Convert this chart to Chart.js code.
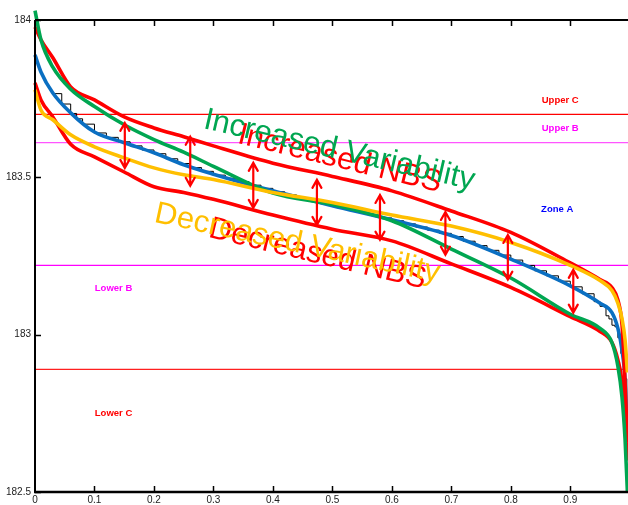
<!DOCTYPE html>
<html>
<head>
<meta charset="utf-8">
<script src="https://cdn.jsdelivr.net/npm/chart.js@4.4.1/dist/chart.umd.min.js"></script>
<style>
  html, body { margin: 0; padding: 0; background: #fff; }
</style>
</head>
<body>
<canvas id="zoneChart" width="628" height="505"></canvas>
<script>
// shared x positions for the smooth curves
const xs = [0, 0.01, 0.03, 0.06, 0.1, 0.15, 0.2, 0.25, 0.3, 0.4, 0.5, 0.6, 0.7, 0.8, 0.9, 0.95, 0.97, 0.98, 0.987, 0.992, 0.996];

const meanCurve    = [183.889, 183.835, 183.768, 183.705, 183.644, 183.61, 183.578, 183.54, 183.51, 183.457, 183.41, 183.365, 183.315, 183.24, 183.155, 183.10, 183.07, 183.02, 182.95, 182.857, 182.66];
const incVarCurve  = [184.03, 183.937, 183.85, 183.78, 183.725, 183.667, 183.62, 183.58, 183.535, 183.45, 183.414, 183.362, 183.272, 183.18, 183.065, 183.02, 182.975, 182.9, 182.8, 182.67, 182.5];
const decVarCurve  = [183.778, 183.714, 183.683, 183.635, 183.597, 183.562, 183.53, 183.508, 183.493, 183.452, 183.42, 183.38, 183.345, 183.293, 183.22, 183.172, 183.14, 183.1, 183.05, 182.984, 182.88];
const incNbsCurve  = [183.978, 183.937, 183.88, 183.787, 183.746, 183.692, 183.657, 183.629, 183.6, 183.545, 183.503, 183.457, 183.393, 183.325, 183.228, 183.175, 183.15, 183.11, 183.03, 182.85, 182.66];
const decNbsCurve  = [183.8, 183.746, 183.692, 183.605, 183.565, 183.517, 183.47, 183.452, 183.43, 183.38, 183.335, 183.298, 183.225, 183.15, 183.057, 183.01, 182.975, 182.92, 182.848, 182.71, 182.6];

// observed (stepped) record
const obsX = [0.03, 0.045, 0.06, 0.07, 0.08, 0.10, 0.12, 0.14, 0.16, 0.18, 0.20, 0.22, 0.24, 0.26, 0.28, 0.30, 0.32, 0.34, 0.36, 0.38, 0.40, 0.42, 0.44, 0.46, 0.48, 0.50, 0.52, 0.54, 0.56, 0.58, 0.60, 0.62, 0.64, 0.66, 0.68, 0.70, 0.72, 0.74, 0.76, 0.78, 0.80, 0.82, 0.84, 0.86, 0.88, 0.90, 0.92, 0.94, 0.95, 0.96, 0.965, 0.97, 0.975, 0.98, 0.985, 0.99, 0.995];
const obsY = [183.766, 183.733, 183.703, 183.686, 183.669, 183.641, 183.627, 183.613, 183.6, 183.587, 183.575, 183.559, 183.544, 183.531, 183.519, 183.507, 183.497, 183.486, 183.475, 183.465, 183.454, 183.444, 183.435, 183.425, 183.416, 183.407, 183.398, 183.389, 183.38, 183.371, 183.362, 183.352, 183.342, 183.332, 183.322, 183.312, 183.297, 183.283, 183.268, 183.253, 183.237, 183.22, 183.203, 183.187, 183.17, 183.152, 183.13, 183.105, 183.09, 183.06, 183.05, 183.03, 183.025, 182.99, 182.94, 182.86, 182.7];

// zone limits
const limitNames  = ['Upper C', 'Upper B', 'Lower B', 'Lower C'];
const limitValues = [183.7, 183.61, 183.22, 182.89];

// double arrows between the two NBS curves
const arrowX      = [0.151, 0.261, 0.367, 0.474, 0.58, 0.69, 0.795, 0.905];
const arrowTop    = [183.673, 183.629, 183.546, 183.492, 183.444, 183.39, 183.317, 183.206];
const arrowBottom = [183.53, 183.473, 183.403, 183.349, 183.302, 183.254, 183.175, 183.07];

const xTicks = [0, 0.1, 0.2, 0.3, 0.4, 0.5, 0.6, 0.7, 0.8, 0.9];
const yTicks = [182.5, 183, 183.5, 184];

const X_MAX = 0.997;

// text annotations (positions in data units)
const zoneLabels = [
  { text: 'Upper C', x: 0.883, y: 183.746, color: '#ff0000' },
  { text: 'Upper B', x: 0.883, y: 183.657, color: '#ff00ff' },
  { text: 'Zone A',  x: 0.878, y: 183.397, color: '#0000ff' },
  { text: 'Lower B', x: 0.132, y: 183.146, color: '#ff00ff' },
  { text: 'Lower C', x: 0.132, y: 182.749, color: '#ff0000' }
];
const curveNotes = [
  { text: 'Increased NBS',         x: 0.3387, y: 183.610, angle: 13.7, color: '#ff0000' },
  { text: 'Increased Variability', x: 0.2815, y: 183.657, angle: 12.9, color: '#00a651' },
  { text: 'Decreased NBS',         x: 0.29,   y: 183.311, angle: 13.5, color: '#ff0000' },
  { text: 'Decreased Variability', x: 0.199,  y: 183.359, angle: 12.0, color: '#ffbf00' }
];

const pts = (xv, yv) => xv.map((x, i) => ({ x: x, y: yv[i] }));

const curve = (label, ys, color, order) => ({
  label: label,
  data: pts(xs, ys),
  borderColor: color,
  borderWidth: 3.6,
  cubicInterpolationMode: 'monotone',
  pointRadius: 0,
  clip: false,
  order: order
});

const limitColors = ['#ff0000', '#ff55ff', '#ff00ff', '#ff2020'];
const limitSets = limitValues.map((v, i) => ({
  label: limitNames[i],
  data: [{ x: 0, y: v }, { x: X_MAX, y: v }],
  borderColor: limitColors[i],
  borderWidth: 1.2,
  pointRadius: 0,
  order: 10
}));

const decor = {
  id: 'decor',
  afterDatasetsDraw(chart) {
    const ctx = chart.ctx;
    const xs_ = chart.scales.x, ys_ = chart.scales.y;
    const area = chart.chartArea;

    // rotated curve notes
    ctx.save();
    ctx.font = '31px "Liberation Sans", Arial, sans-serif';
    ctx.textBaseline = 'alphabetic';
    ctx.textAlign = 'left';
    curveNotes.forEach(n => {
      ctx.save();
      ctx.translate(xs_.getPixelForValue(n.x), ys_.getPixelForValue(n.y));
      ctx.rotate(n.angle * Math.PI / 180);
      ctx.fillStyle = n.color;
      ctx.fillText(n.text, 0, 0);
      ctx.restore();
    });
    ctx.restore();

    // double arrows
    ctx.save();
    ctx.strokeStyle = '#ff0000';
    ctx.lineWidth = 2.2;
    ctx.lineCap = 'round';
    arrowX.forEach((ax, i) => {
      const px = xs_.getPixelForValue(ax);
      const t = ys_.getPixelForValue(arrowTop[i]);
      const b = ys_.getPixelForValue(arrowBottom[i]);
      ctx.beginPath();
      ctx.moveTo(px, t); ctx.lineTo(px, b);
      ctx.moveTo(px - 4.5, t + 8); ctx.lineTo(px, t); ctx.lineTo(px + 4.5, t + 8);
      ctx.moveTo(px - 4.5, b - 8); ctx.lineTo(px, b); ctx.lineTo(px + 4.5, b - 8);
      ctx.stroke();
    });
    ctx.restore();

    // zone labels
    ctx.save();
    ctx.font = 'bold 9.5px "Liberation Sans", Arial, sans-serif';
    ctx.textAlign = 'center';
    ctx.textBaseline = 'middle';
    zoneLabels.forEach(l => {
      ctx.fillStyle = l.color;
      ctx.fillText(l.text, xs_.getPixelForValue(l.x), ys_.getPixelForValue(l.y));
    });
    ctx.restore();

    // frame: left, bottom and top axis lines with inward ticks
    ctx.save();
    ctx.strokeStyle = '#000';
    ctx.lineWidth = 2;
    ctx.beginPath();
    ctx.moveTo(area.left, area.top); ctx.lineTo(area.left, area.bottom);
    ctx.moveTo(area.left, area.top); ctx.lineTo(area.right, area.top);
    ctx.stroke();
    ctx.lineWidth = 2.5;
    ctx.beginPath();
    ctx.moveTo(area.left - 1, area.bottom); ctx.lineTo(area.right, area.bottom);
    ctx.stroke();
    ctx.lineWidth = 1.5;
    ctx.beginPath();
    xTicks.forEach(v => {
      if (v === 0) return;
      const px = Math.round(xs_.getPixelForValue(v)) + 0.5;
      ctx.moveTo(px, area.bottom); ctx.lineTo(px, area.bottom - 6);
      ctx.moveTo(px, area.top); ctx.lineTo(px, area.top + 6);
    });
    yTicks.forEach(v => {
      const py = Math.round(ys_.getPixelForValue(v)) + 0.5;
      ctx.moveTo(area.left, py); ctx.lineTo(area.left + 6, py);
    });
    ctx.stroke();

    // tick labels
    ctx.fillStyle = '#222';
    ctx.font = '10px "Liberation Sans", Arial, sans-serif';
    ctx.textAlign = 'right';
    ctx.textBaseline = 'middle';
    yTicks.forEach(v => {
      ctx.fillText(String(v), area.left - 4, ys_.getPixelForValue(v));
    });
    ctx.textAlign = 'center';
    ctx.textBaseline = 'middle';
    xTicks.forEach(v => {
      ctx.fillText(String(v), xs_.getPixelForValue(v), area.bottom + 8);
    });
    ctx.restore();
  }
};

const chart = new Chart(document.getElementById('zoneChart'), {
  type: 'line',
  data: {
    datasets: [
      curve('Decreased Variability', decVarCurve, '#ffbf00', 1),
      curve('Increased Variability', incVarCurve, '#00a651', 2),
      curve('Increased NBS', incNbsCurve, '#ff0000', 3),
      curve('Decreased NBS', decNbsCurve, '#ff0000', 3),
      curve('Mean', meanCurve, '#0a6fc2', 5),
      {
        label: 'Observed',
        data: pts(obsX, obsY),
        borderColor: '#000',
        borderWidth: 1,
        stepped: 'before',
        pointRadius: 0,
        order: 6
      },
      ...limitSets
    ]
  },
  options: {
    responsive: false,
    animation: false,
    layout: { padding: { top: 20, right: 0, left: 0, bottom: 0 } },
    plugins: { legend: { display: false }, tooltip: { enabled: false } },
    scales: {
      x: {
        type: 'linear', min: 0, max: X_MAX,
        grid: { display: false }, border: { display: false },
        ticks: { display: false },
        afterFit: s => { s.height = 13; }
      },
      y: {
        min: 182.5, max: 184,
        grid: { display: false }, border: { display: false },
        ticks: { display: false },
        afterFit: s => { s.width = 35; }
      }
    }
  },
  plugins: [decor]
});
</script>
</body>
</html>
